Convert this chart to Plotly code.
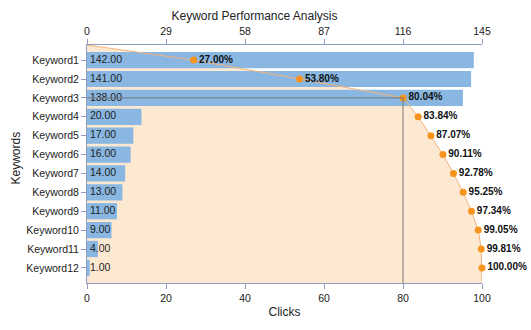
import plotly.graph_objects as go

keywords = ["Keyword1", "Keyword2", "Keyword3", "Keyword4", "Keyword5", "Keyword6",
            "Keyword7", "Keyword8", "Keyword9", "Keyword10", "Keyword11", "Keyword12"]
clicks = [142, 141, 138, 20, 17, 16, 14, 13, 11, 9, 4, 1]
top_ticks = [0, 29, 58, 87, 116, 145]
bottom_ticks = [0, 20, 40, 60, 80, 100]

total = sum(clicks)
cum_pct = []
running = 0
for c in clicks:
    running += c
    cum_pct.append(running / total * 100)

pos = list(range(len(keywords)))
y_top, y_bottom = -0.8, len(keywords) - 0.2

axis_col = "#8e9cc0"
font_fam = "Liberation Sans, Arial, sans-serif"

# plot area geometry in pixels
L, R, T, B = 87, 49, 45, 47
W, H = 531, 330
pw, ph = W - L - R, H - T - B

fig = go.Figure()

# cumulative share area (behind the bars)
fig.add_trace(go.Scatter(
    x=[0] + cum_pct + [100, 0],
    y=[y_top] + pos + [y_bottom, y_bottom],
    fill="toself", fillcolor="#fde8d2", mode="none",
    xaxis="x", yaxis="y", hoverinfo="skip", showlegend=False))

# click bars on the top axis
fig.add_trace(go.Bar(
    x=clicks, y=pos, orientation="h", marker=dict(color="#89b7e1", line=dict(width=0)),
    width=0.86, xaxis="x2", yaxis="y", showlegend=False))

fig.add_trace(go.Scatter(
    x=[0] * len(clicks), y=pos, mode="text",
    text=[f" {v:.2f}" for v in clicks], textposition="middle right",
    textfont=dict(family=font_fam, size=10.5, color="#222"),
    xaxis="x2", yaxis="y", showlegend=False, hoverinfo="skip", cliponaxis=False))

# cumulative line with labels
fig.add_trace(go.Scatter(
    x=[0] + cum_pct + [100], y=[y_top] + pos + [y_bottom], mode="lines",
    line=dict(color="#f5b27a", width=1),
    xaxis="x3", yaxis="y", showlegend=False, hoverinfo="skip"))
fig.add_trace(go.Scatter(
    x=cum_pct, y=pos, mode="markers+text",
    marker=dict(color="#f7941d", size=7),
    text=[f"<b>{p:.2f}%</b>" for p in cum_pct], textposition="middle right",
    textfont=dict(family=font_fam, size=10, color="#111"),
    xaxis="x3", yaxis="y", showlegend=False, cliponaxis=False))

# 80% crosshair
idx80 = next(i for i, p in enumerate(cum_pct) if p >= 80)
fig.add_shape(type="line", xref="x", yref="y", x0=80, x1=80, y0=idx80, y1=y_bottom,
              line=dict(color="#777", width=1))
fig.add_shape(type="line", xref="x", yref="y", x0=0, x1=80, y0=idx80, y1=idx80,
              line=dict(color="#777", width=1))

# vertical axis title
fig.add_annotation(text="Keywords", textangle=-90, showarrow=False,
                   xref="paper", yref="paper",
                   x=(15.5 - L) / pw, y=(H - B - 158) / ph,
                   xanchor="center", yanchor="middle",
                   font=dict(family=font_fam, size=12, color="#222"))

common = dict(showgrid=False, zeroline=False, showline=True, linecolor=axis_col,
              ticks="outside", tickcolor=axis_col, ticklen=5, automargin=False,
              tickfont=dict(family=font_fam, size=10.5, color="#222"))

fig.update_layout(
    width=W, height=H, margin=dict(l=L, r=R, t=T, b=B),
    paper_bgcolor="white", plot_bgcolor="white",
    title=dict(text="Keyword Performance Analysis", x=254.5 / W, xanchor="center",
               y=1 - 16 / H, yanchor="middle",
               font=dict(family=font_fam, size=12, color="#222")),
    xaxis=dict(range=[0, 100], tickvals=bottom_ticks, side="bottom",
               title=dict(text="Clicks", font=dict(family=font_fam, size=12, color="#222"), standoff=5),
               **common),
    xaxis2=dict(range=[0, 145], tickvals=top_ticks, side="top", overlaying="x", **common),
    xaxis3=dict(range=[0, 100], overlaying="x", visible=False),
    yaxis=dict(range=[y_bottom, y_top], tickvals=pos, ticktext=keywords, **common),
    bargap=0.1,
)

fig.write_html("out.html")
